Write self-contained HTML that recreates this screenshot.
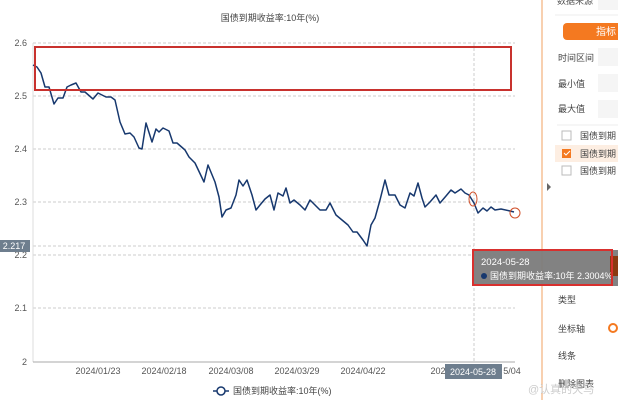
<!DOCTYPE html>
<html><head><meta charset="utf-8"><style>
body{margin:0;width:618px;height:400px;overflow:hidden;background:#fff;font-family:"Liberation Sans","Noto Sans CJK SC",sans-serif;}
</style></head><body>
<svg width="618" height="400" xmlns="http://www.w3.org/2000/svg" style="position:absolute;left:0;top:0" font-family="Liberation Sans, Noto Sans CJK SC, sans-serif">
<rect width="618" height="400" fill="#fff"/>
<text x="270" y="21" font-size="9" fill="#444" text-anchor="middle">国债到期收益率:10年(%)</text>
<g stroke="#ccc" stroke-dasharray="3,2" stroke-width="1">
<line x1="33" y1="43" x2="515" y2="43"/><line x1="33" y1="96" x2="515" y2="96"/>
<line x1="33" y1="149" x2="515" y2="149"/><line x1="33" y1="202" x2="515" y2="202"/>
<line x1="33" y1="255" x2="515" y2="255"/><line x1="33" y1="308" x2="515" y2="308"/>
<line x1="33" y1="246" x2="474" y2="246"/><line x1="474" y1="43" x2="474" y2="362"/>
</g>
<line x1="33" y1="43" x2="33" y2="362" stroke="#ddd"/>
<line x1="33" y1="362" x2="515" y2="362" stroke="#aaa"/>
<g font-size="9" fill="#555" text-anchor="end">
<text x="27" y="46">2.6</text><text x="27" y="99">2.5</text><text x="27" y="152">2.4</text>
<text x="27" y="205">2.3</text><text x="27" y="258">2.2</text><text x="27" y="311">2.1</text><text x="27" y="365">2</text>
</g>
<g font-size="9" fill="#555" text-anchor="middle">
<text x="98" y="374">2024/01/23</text><text x="164" y="374">2024/02/18</text><text x="231" y="374">2024/03/08</text>
<text x="297" y="374">2024/03/29</text><text x="363" y="374">2024/04/22</text><text x="448" y="374" >2024/05/</text><text x="512" y="374">5/04</text>
</g>
<rect x="445" y="364" width="57" height="15" fill="#6e7e8e"/>
<text x="473" y="375" font-size="9" fill="#fff" text-anchor="middle">2024-05-28</text>
<rect x="0" y="240" width="30" height="12" fill="#6e7e8e"/>
<text x="14" y="249" font-size="9" fill="#fff" text-anchor="middle">2.217</text>
<polyline fill="none" stroke="#17386e" stroke-width="1.5" stroke-linejoin="round" points="33,65 37,67 41,73 45,87 49,87 54,104 58,98 63,98 67,87 71,85 76,83 81,92 85,92 93,99 98,93 106,97 111,97 115,100 120,122 125,134 130,133 134,137 139,148 142,149 146,123 152,142 156,129 159,132 163,128 169,131 173,143 177,143 185,150 189,157 195,163 204,182 208,165 215,182 219,197 222,217 226,210 231,208 236,195 239,180 243,186 247,180 252,195 256,210 260,205 265,199 270,195 274,210 278,193 283,196 286,188 290,203 294,200 300,205 305,210 310,200 315,205 320,210 326,210 330,203 336,215 342,220 348,225 353,232 357,232 363,240 367,246 371,225 375,218 380,200 385,180 389,195 395,195 400,205 405,208 410,193 414,196 418,183 422,198 425,207 430,202 436,195 440,203 446,196 451,190 455,193 461,189 465,193 469,195 474,203 478,213 483,208 487,211 491,207 495,210 501,209 510,211 514,212"/>
<ellipse cx="473" cy="199" rx="4" ry="7" fill="none" stroke="#d0502a" stroke-width="1"/>
<circle cx="515" cy="213" r="5" fill="none" stroke="#d0502a" stroke-width="1"/>
<rect x="35" y="47" width="476" height="43" fill="none" stroke="#c8322e" stroke-width="2"/>
<line x1="213" y1="391" x2="229" y2="391" stroke="#17386e" stroke-width="1.5"/>
<circle cx="221" cy="391" r="4" fill="#fff" stroke="#17386e" stroke-width="1.5"/>
<text x="233" y="394" font-size="9" fill="#444">国债到期收益率:10年(%)</text>
<line x1="542" y1="0" x2="542" y2="400" stroke="#f0a060" stroke-width="1"/>
<polygon points="547,183 551,187 547,191" fill="#666"/>
<line x1="555" y1="15" x2="618" y2="15" stroke="#eee"/>
<text x="557" y="4" font-size="9" fill="#555">数据来源</text><rect x="598" y="0" width="20" height="10" fill="#f5f5f5"/>
<rect x="563" y="23" width="60" height="17" rx="4" fill="#f47920"/>
<text x="596" y="35" font-size="10" fill="#fff">指标</text>
<g font-size="9" fill="#444">
<text x="558" y="61">时间区间</text><text x="558" y="87">最小值</text><text x="558" y="112">最大值</text>
<text x="558" y="303">类型</text><text x="558" y="332">坐标轴</text><text x="558" y="359">线条</text><text x="558" y="387">删除图表</text>
</g>
<rect x="598" y="48" width="20" height="18" fill="#f5f5f5"/><rect x="598" y="74" width="20" height="18" fill="#f5f5f5"/><rect x="598" y="100" width="20" height="18" fill="#f5f5f5"/>
<line x1="557" y1="125" x2="618" y2="125" stroke="#eee"/>
<rect x="555" y="145" width="63" height="17" fill="#fdeee2"/>
<rect x="562" y="131" width="9" height="9" fill="#fff" stroke="#bbb"/>
<rect x="562" y="149" width="9" height="9" fill="#f47920"/>
<path d="M564,153 l2,2 l4,-4" stroke="#fff" fill="none"/>
<rect x="562" y="166" width="9" height="9" fill="#fff" stroke="#bbb"/>
<g font-size="9" fill="#444"><text x="580" y="139">国债到期</text><text x="580" y="157">国债到期</text><text x="580" y="174">国债到期</text></g>
<circle cx="613" cy="328" r="4" fill="none" stroke="#f47920" stroke-width="2"/>
<rect x="474" y="250" width="144" height="36" fill="#7b7b7b" opacity="0.95"/>
<rect x="610" y="256" width="8" height="20" fill="#8a3a10"/>
<text x="481" y="265" font-size="9.5" fill="#fff">2024-05-28</text>
<circle cx="484" cy="276" r="3" fill="#17386e"/>
<text x="490" y="279" font-size="9" fill="#fff">国债到期收益率:10年 2.3004%</text>
<rect x="473" y="250" width="139" height="35" fill="none" stroke="#d8302e" stroke-width="2"/>
<text x="528" y="393" font-size="11" fill="#ccc">@认真的天马</text>
</svg>
</body></html>
